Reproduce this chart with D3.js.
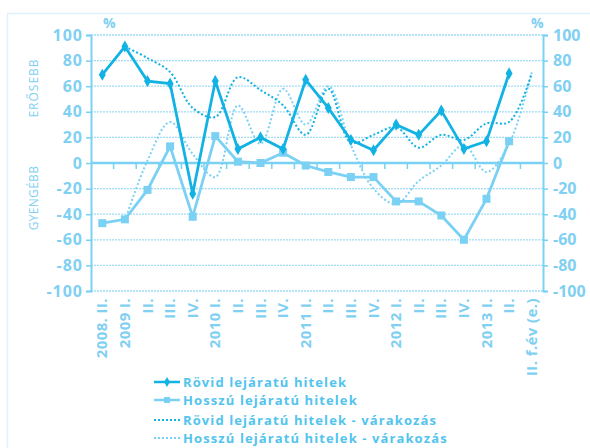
<!DOCTYPE html>
<html>
<head>
<meta charset="utf-8">
<script src="https://cdn.jsdelivr.net/npm/d3@7"></script>
<style>
  body { margin: 0; background: #fff; }
  text { font-family: "Open Sans", sans-serif; }
</style>
</head>
<body>
<svg width="590" height="448"></svg>
<script>
let width = 590, height = 448;

// Data
let categories = ["2008. II.", "2009 I.", "II.", "III.", "IV.", "2010 I.", "II.", "III.", "IV.",
    "2011 I.", "II.", "III.", "IV.", "2012 I.", "II.", "III.", "IV.", "2013 I.", "II.", "II. f.év (e.)"];
let shortLoans = [69, 91, 64, 62, -24, 64, 11, 20, 11, 65, 43, 18, 10, 30, 22, 41, 11, 17, 70, null];
let longLoans = [-47, -44, -21, 13, -42, 21, 1, 0, 8, -2, -7, -11, -11, -30, -30, -41, -60, -28, 17, null];
let shortExpect = [null, 91, 82, 71, 43, 36, 67, 57, 45, 22, 58, 16, 22, 28, 12, 22, 18, 31, 32, 70];
let longExpect = [null, -45, 2, 32, 7, -11, 45, 15, 58, 30, 60, 14, -20, -32, -14, -2, 14, -7, 15, 71];
let yTicks = [-100, -80, -60, -40, -20, 0, 20, 40, 60, 80, 100];
let legendLabels = ["Rövid lejáratú hitelek", "Hosszú lejáratú hitelek",
    "Rövid lejáratú hitelek - várakozás", "Hosszú lejáratú hitelek - várakozás"];

let darkBlue = "#12b2e4", lightBlue = "#7ad1f4", textBlue = "#7fd0f2";

let svg = d3.select("svg");
let margin = { left: 91, right: 47, top: 35, bottom: 157 };

// frame
svg.append("rect")
    .attr("x", 7.5).attr("y", 13.5)
    .attr("width", 640).attr("height", 500)
    .attr("fill", "none")
    .attr("stroke", "#dff1fa")
    .attr("stroke-width", 1.5);

let x = d3.scaleBand()
    .domain(d3.range(categories.length))
    .range([margin.left, width - margin.right]);

let y = d3.scaleLinear()
    .domain([-100, 100])
    .range([height - margin.bottom, margin.top]);

// grid
svg.append("g").selectAll("line")
    .data(yTicks.filter(d => d != 0))
    .enter().append("line")
    .attr("x1", margin.left).attr("x2", width - margin.right)
    .attr("y1", d => y(d)).attr("y2", d => y(d))
    .attr("stroke", "#9fdcf5")
    .attr("stroke-width", 1.3)
    .attr("stroke-dasharray", "2,1");

// axes
let leftAxis = svg.append("g")
    .attr("transform", "translate(" + margin.left + ",0)")
    .call(d3.axisLeft(y).tickValues(yTicks).tickSize(5).tickPadding(3).tickFormat(d => d));

let rightAxis = svg.append("g")
    .attr("transform", "translate(" + (width - margin.right) + ",0)")
    .call(d3.axisRight(y).tickValues(yTicks).tickSize(5).tickPadding(5).tickFormat(d => d));

[leftAxis, rightAxis].forEach((a, k) => {
    a.select(".domain").attr("stroke", lightBlue).attr("stroke-width", 2);
    a.selectAll(".tick line").attr("stroke", lightBlue).attr("stroke-width", 1.5);
    a.selectAll(".tick text")
        .attr("fill", textBlue)
        .style("font-size", "16px")
        .style("font-weight", "bold")
        .style("letter-spacing", k == 0 ? "1px" : "0px");
});

// zero line with category ticks
svg.append("line")
    .attr("x1", margin.left).attr("x2", width - margin.right)
    .attr("y1", y(0)).attr("y2", y(0))
    .attr("stroke", lightBlue)
    .attr("stroke-width", 2.5);

svg.append("g").selectAll("line")
    .data(d3.range(1, categories.length))
    .enter().append("line")
    .attr("x1", d => x(d)).attr("x2", d => x(d))
    .attr("y1", y(0)).attr("y2", y(0) + 6)
    .attr("stroke", lightBlue)
    .attr("stroke-width", 1.5);

// category labels
svg.append("g").selectAll("text")
    .data(categories)
    .enter().append("text")
    .attr("transform", (d, i) => "translate(" + (x(i) + x.bandwidth() / 2 + 5) + "," + (y(-100) + 7) + ") rotate(-90)")
    .attr("text-anchor", "end")
    .attr("fill", textBlue)
    .style("font-size", "15px")
    .style("font-weight", "bold")
    .style("letter-spacing", "0.4px")
    .text(d => d);

// % and side labels
svg.append("text").attr("x", 103).attr("y", 28)
    .attr("fill", textBlue).style("font-size", "14px").style("font-weight", "bold").text("%");
svg.append("text").attr("x", 531).attr("y", 28)
    .attr("fill", textBlue).style("font-size", "14px").style("font-weight", "bold").text("%");

svg.append("text")
    .attr("transform", "translate(38,88) rotate(-90)")
    .attr("text-anchor", "middle")
    .attr("fill", textBlue)
    .style("font-size", "12px")
    .style("letter-spacing", "1px")
    .text("ERŐSEBB");
svg.append("text")
    .attr("transform", "translate(38,198) rotate(-90)")
    .attr("text-anchor", "middle")
    .attr("fill", textBlue)
    .style("font-size", "12px")
    .style("letter-spacing", "0.3px")
    .text("GYENGÉBB");

let cx = i => x(i) + x.bandwidth() / 2;

// expectation lines (smoothed, dotted)
let smoothLine = d3.line()
    .defined(d => d != null)
    .x((d, i) => cx(i))
    .y(d => y(d))
    .curve(d3.curveCatmullRom.alpha(0.5));

svg.append("path")
    .attr("d", smoothLine(longExpect))
    .attr("fill", "none")
    .attr("stroke", lightBlue)
    .attr("stroke-width", 2)
    .attr("stroke-dasharray", "2,2.2");

svg.append("path")
    .attr("d", smoothLine(shortExpect))
    .attr("fill", "none")
    .attr("stroke", darkBlue)
    .attr("stroke-width", 2)
    .attr("stroke-dasharray", "2,2.2");

// solid lines
let straightLine = d3.line()
    .defined(d => d != null)
    .x((d, i) => cx(i))
    .y(d => y(d));

svg.append("path")
    .attr("d", straightLine(longLoans))
    .attr("fill", "none")
    .attr("stroke", lightBlue)
    .attr("stroke-width", 2.8);

svg.append("g").selectAll("rect")
    .data(longLoans.map((v, i) => [i, v]).filter(d => d[1] != null))
    .enter().append("rect")
    .attr("x", d => cx(d[0]) - 4).attr("y", d => y(d[1]) - 4)
    .attr("width", 8).attr("height", 8)
    .attr("fill", lightBlue);

svg.append("path")
    .attr("d", straightLine(shortLoans))
    .attr("fill", "none")
    .attr("stroke", darkBlue)
    .attr("stroke-width", 2.8);

let diamond = d3.symbol().type(d3.symbolDiamond).size(42);
svg.append("g").selectAll("path")
    .data(shortLoans.map((v, i) => [i, v]).filter(d => d[1] != null))
    .enter().append("path")
    .attr("d", diamond)
    .attr("transform", d => "translate(" + cx(d[0]) + "," + y(d[1]) + ")")
    .attr("fill", darkBlue);

// legend
let legendY = [382, 400, 420, 438];
let legend = svg.append("g");
legendLabels.forEach((label, i) => {
    let ly = legendY[i];
    let color = (i % 2 == 0) ? darkBlue : lightBlue;
    legend.append("line")
        .attr("x1", 154).attr("x2", 180)
        .attr("y1", ly).attr("y2", ly)
        .attr("stroke", color)
        .attr("stroke-width", i < 2 ? 2.5 : 1.8)
        .attr("stroke-dasharray", i < 2 ? null : "2,2");
    if (i == 0) {
        legend.append("path").attr("d", d3.symbol().type(d3.symbolDiamond).size(30))
            .attr("transform", "translate(167," + ly + ")").attr("fill", color);
    } else if (i == 1) {
        legend.append("rect").attr("x", 164).attr("y", ly - 3).attr("width", 6).attr("height", 6)
            .attr("fill", color);
    }
    legend.append("text")
        .attr("x", 183).attr("y", ly + 5)
        .attr("fill", "#52c4ee")
        .style("font-size", "13px")
        .style("font-weight", "bold")
        .style("letter-spacing", "1.1px")
        .text(label);
});
</script>
</body>
</html>
